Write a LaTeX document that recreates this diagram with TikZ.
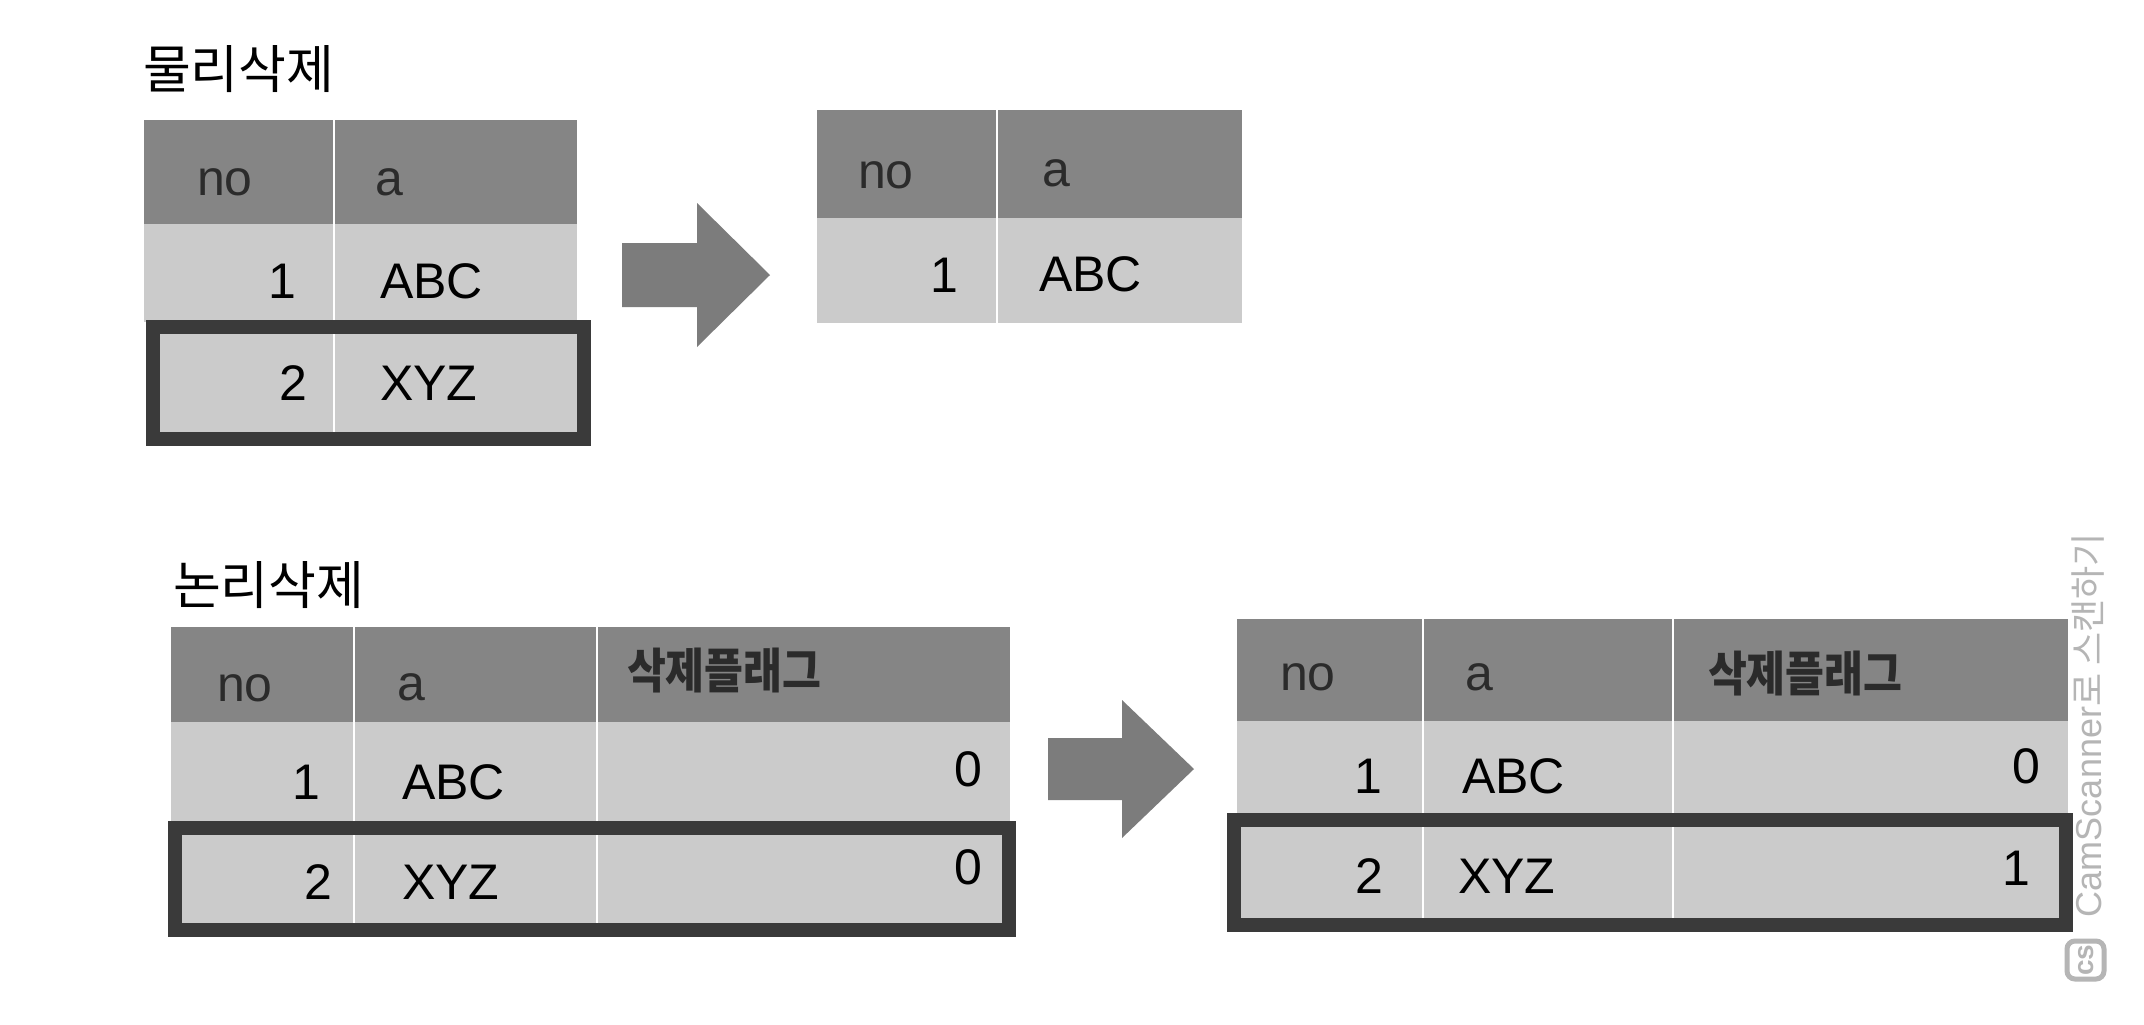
\documentclass[tikz,border=0pt]{standalone}
\usepackage{fontspec}
\setmainfont{Liberation Sans}
\newfontfamily\krfont{Noto Sans CJK KR}
\definecolor{hdrgray}{HTML}{858585}
\definecolor{rowgray}{HTML}{CBCBCB}
\definecolor{framegray}{HTML}{3A3A3A}
\definecolor{arrowgray}{HTML}{7C7C7C}
\definecolor{hdrtext}{HTML}{2B2B2B}
\definecolor{wmgray}{HTML}{B5B5B5}
\begin{document}
\begin{tikzpicture}[x=0.5pt,y=-0.5pt,
  every node/.style={inner sep=0pt, outer sep=0pt},
  titletext/.style={anchor=base west, font=\krfont\fontsize{26}{30}\selectfont},
  hdrlatin/.style={anchor=base west, text=hdrtext, font=\fontsize{25}{30}\selectfont},
  hdrkorean/.style={anchor=base west, text=hdrtext, font=\krfont\bfseries\fontsize{24}{28}\selectfont},
  numval/.style={anchor=base east, font=\fontsize{25}{30}\selectfont},
  strval/.style={anchor=base west, font=\fontsize{25}{30}\selectfont},
  hdrcell/.style={fill=hdrgray},
  rowcell/.style={fill=rowgray},
  coldiv/.style={draw=white, line width=0.8pt},
  selframe/.style={draw=framegray, line width=7pt},
  blockarrow/.style={fill=arrowgray},
  watermark/.style={text=wmgray, font=\fontsize{18}{20}\selectfont}
]
\useasboundingbox (0,0) rectangle (2144,1024);
\fill[white] (0,0) rectangle (2144,1024);

% ---------- physical delete ----------
\node[titletext] (title1) at (143,88) {물리삭제};

% table 1
\fill[hdrcell] (144,120) rectangle (577,224);
\fill[rowcell] (144,224) rectangle (577,322);
\fill[rowcell] (146,320) rectangle (591,446);
\draw[coldiv] (334,120) -- (334,446);
\draw[selframe] (153,327) rectangle (584,439);
\node[hdrlatin] (t1no) at (197,195) {no};
\node[hdrlatin] (t1a) at (375,195) {a};
\node[numval] (t1n1) at (296,298) {1};
\node[strval] (t1s1) at (380,298) {ABC};
\node[numval] (t1n2) at (307,400) {2};
\node[strval] (t1s2) at (380,400) {XYZ};

% arrow 1
\fill[blockarrow] (622,243) -- (697,243) -- (697,203) -- (770,275) -- (697,347) -- (697,307) -- (622,307) -- cycle;

% table 2
\fill[hdrcell] (817,110) rectangle (1242,218);
\fill[rowcell] (817,218) rectangle (1242,323);
\draw[coldiv] (997,110) -- (997,323);
\node[hdrlatin] (t2no) at (858,188) {no};
\node[hdrlatin] (t2a) at (1042,186) {a};
\node[numval] (t2n1) at (958,292) {1};
\node[strval] (t2s1) at (1039,291) {ABC};

% ---------- logical delete ----------
\node[titletext] (title2) at (173,604) {논리삭제};

% table 3
\fill[hdrcell] (171,627) rectangle (1010,722);
\fill[rowcell] (171,722) rectangle (1010,822);
\fill[rowcell] (168,821) rectangle (1016,937);
\draw[coldiv] (354,627) -- (354,937);
\draw[coldiv] (597,627) -- (597,937);
\draw[selframe] (175,828) rectangle (1009,930);
\node[hdrlatin] (t3no) at (217,701) {no};
\node[hdrlatin] (t3a) at (397,700) {a};
\node[hdrkorean] (t3flag) at (627,688) {\scalebox{0.88}[1]{삭제플래그}};
\node[numval] (t3n1) at (320,799) {1};
\node[strval] (t3s1) at (402,799) {ABC};
\node[numval] (t3f1) at (982,786) {0};
\node[numval] (t3n2) at (332,899) {2};
\node[strval] (t3s2) at (402,899) {XYZ};
\node[numval] (t3f2) at (982,884) {0};

% arrow 2
\fill[blockarrow] (1048,738) -- (1122,738) -- (1122,700) -- (1194,769) -- (1122,838) -- (1122,800) -- (1048,800) -- cycle;

% table 4
\fill[hdrcell] (1237,619) rectangle (2068,721);
\fill[rowcell] (1237,721) rectangle (2068,818);
\fill[rowcell] (1227,813) rectangle (2073,932);
\draw[coldiv] (1423,619) -- (1423,932);
\draw[coldiv] (1673,619) -- (1673,932);
\draw[selframe] (1234,820) rectangle (2066,925);
\node[hdrlatin] (t4no) at (1280,690) {no};
\node[hdrlatin] (t4a) at (1465,690) {a};
\node[hdrkorean] (t4flag) at (1708,691) {\scalebox{0.88}[1]{삭제플래그}};
\node[numval] (t4n1) at (1382,793) {1};
\node[strval] (t4s1) at (1462,793) {ABC};
\node[numval] (t4f1) at (2040,783) {0};
\node[numval] (t4n2) at (1383,893) {2};
\node[strval] (t4s2) at (1458,893) {XYZ};
\node[numval] (t4f2) at (2030,885) {1};

% scanner watermark
\node[watermark, rotate=90, anchor=base west] (wm) at (2101,917) {CamScanner{\krfont 로 스캔하기}};
\draw[wmgray, line width=2.5pt, rounded corners=4pt] (2067,941) rectangle (2104,979);
\node[watermark, rotate=90, font=\bfseries\fontsize{14}{14}\selectfont] (cslogo) at (2086,960) {cs};
\end{tikzpicture}
\end{document}
